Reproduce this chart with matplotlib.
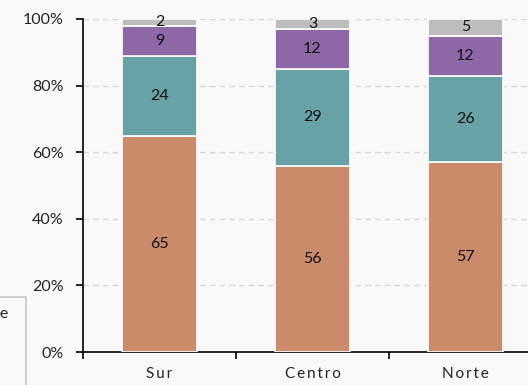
import matplotlib
matplotlib.use("Agg")
import matplotlib.pyplot as plt
from matplotlib.patches import Rectangle
import numpy as np

plt.rcParams['font.family'] = ['Lato', 'DejaVu Sans']

categories = ["Sur", "Centro", "Norte"]
s1 = [65, 56, 57]
s2 = [24, 29, 26]
s3 = [9, 12, 12]
s4 = [2, 3, 5]
series = [s1, s2, s3, s4]
colors = ["#CB8A69", "#68A2A6", "#8E68A6", "#BDBDBD"]
yticks = [0, 20, 40, 60, 80, 100]
ytick_labels = ["0%", "20%", "40%", "60%", "80%", "100%"]

W, H = 528, 385
fig = plt.figure(figsize=(W / 100, H / 100), dpi=100)
fig.patch.set_facecolor("#F9F9F9")
ax = fig.add_axes([83 / W, (H - 352) / H, 459 / W, 333 / H])
ax.set_facecolor("#F9F9F9")

x = np.arange(len(categories))
bottom = np.zeros(len(categories))
for vals, c in zip(series, colors):
    vals = np.array(vals, dtype=float)
    ax.bar(x, vals, 0.49, bottom=bottom, color=c, edgecolor="white", linewidth=1.2, zorder=3)
    for xi, b, v in zip(x, bottom, vals):
        ax.text(xi, b + v / 2, f"{int(v)}", ha="center", va="center", fontsize=11.5, color="#111111", zorder=4)
    bottom += vals

ax.set_xlim(-0.5, 2.5)
ax.set_ylim(0, 100)
ax.set_yticks(yticks)
ax.set_yticklabels(ytick_labels, fontsize=11.5, color="#222222")
ax.set_xticks([-0.5, 0.5, 1.5, 2.5])
ax.set_xticklabels([])
ax.set_xticks(x, minor=True)
ax.set_xticklabels(["\u2009".join(c) for c in categories], minor=True, fontsize=11, color="#222222")
ax.tick_params(axis="x", which="minor", length=0, pad=11)
ax.tick_params(axis="x", which="major", length=5, width=1.2, direction="out")
ax.tick_params(axis="y", length=5, width=1.2, direction="out", pad=9)
for y in yticks[1:]:
    ax.axhline(y, color="#D9D9D9", linestyle=(0, (4, 3)), linewidth=1, zorder=1)
for s in ["top", "right"]:
    ax.spines[s].set_visible(False)
ax.spines["left"].set_linewidth(1.2)
ax.spines["bottom"].set_linewidth(1.2)

# partially visible legend/note box at the bottom left
fig.patches.append(Rectangle((-60 / W, -10 / H), 86 / W, (H - 297 + 10) / H,
                             transform=fig.transFigure, facecolor="none",
                             edgecolor="#C8C8C8", linewidth=1.2))
fig.text(9 / W, 1 - 314 / H, "Fuente", ha="right", va="center", fontsize=11.5, color="#222222")

fig.savefig("out.png", dpi=100, facecolor=fig.get_facecolor())
